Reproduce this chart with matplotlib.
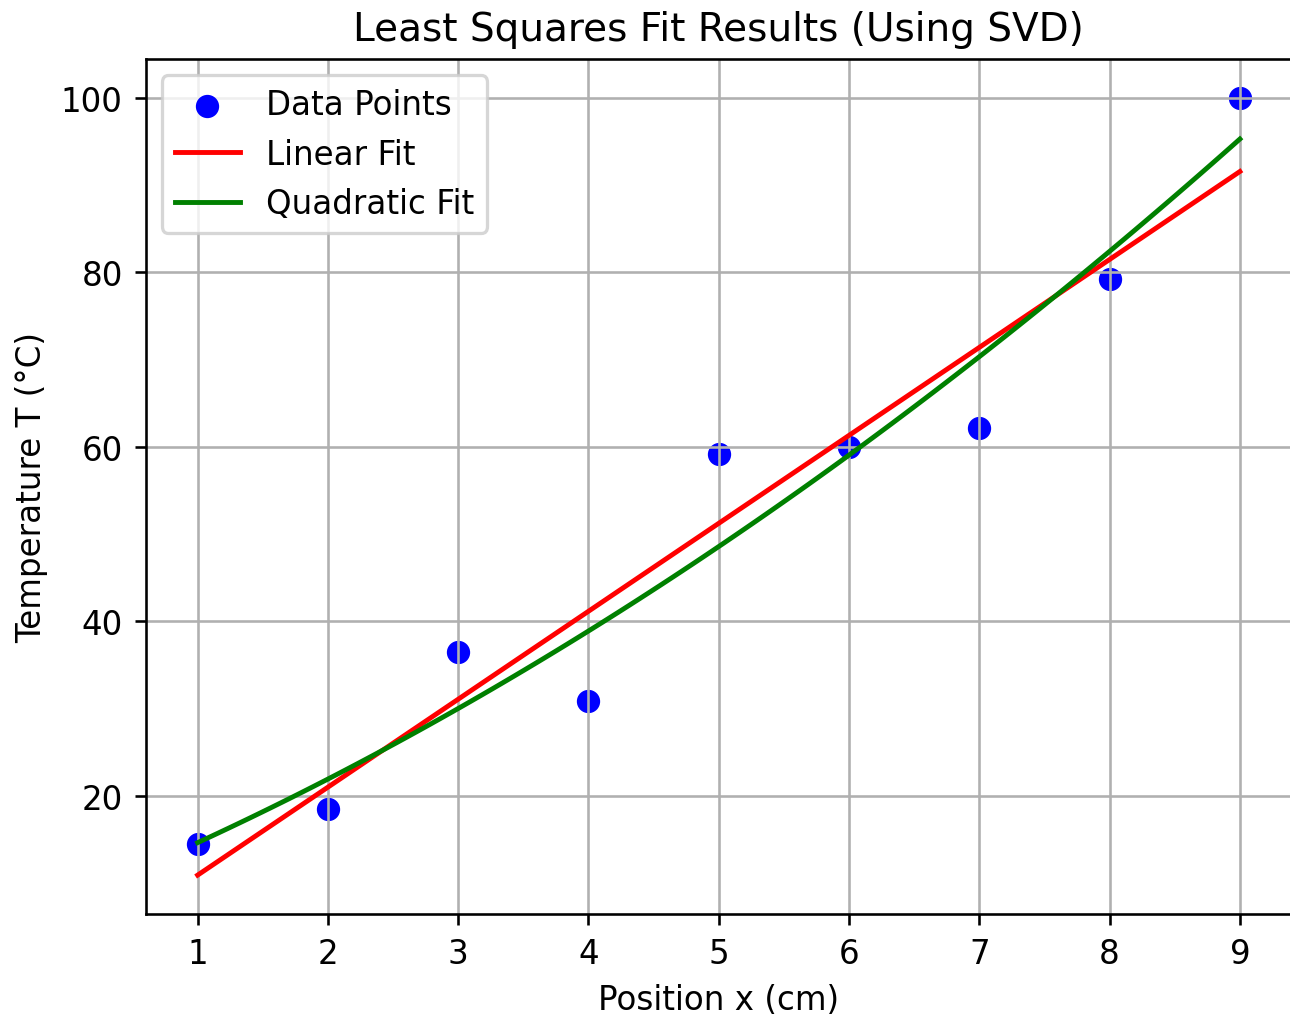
import numpy as np
import matplotlib
matplotlib.use("Agg")
import matplotlib.pyplot as plt

# Data
x_data = np.array([1, 2, 3, 4, 5, 6, 7, 8, 9], dtype=float)
T_data = np.array([14.4, 18.5, 36.5, 30.9, 59.2, 60.0, 62.2, 79.3, 100.0])

# Least-squares fits via SVD (as in the original chart)
def lstsq_svd(A, b):
    U, s, Vt = np.linalg.svd(A, full_matrices=False)
    return Vt.T @ ((U.T @ b) / s)

A_lin = np.column_stack([np.ones_like(x_data), x_data])
A_quad = np.column_stack([np.ones_like(x_data), x_data, x_data**2])
c_lin = lstsq_svd(A_lin, T_data)
c_quad = lstsq_svd(A_quad, T_data)

x_fit = np.linspace(x_data.min(), x_data.max(), 100)
T_lin = c_lin[0] + c_lin[1] * x_fit
T_quad = c_quad[0] + c_quad[1] * x_fit + c_quad[2] * x_fit**2

DPI = 234
fig = plt.figure(figsize=(1290 / DPI, 1017 / DPI), dpi=DPI)
ax = fig.add_axes([145.5 / 1290, 0.1003, (1292 - 145.5) / 1290, 0.8405])

ax.scatter(x_data, T_data, color="blue", s=38, label="Data Points")
ax.plot(x_fit, T_lin, color="red", label="Linear Fit")
ax.plot(x_fit, T_quad, color="green", label="Quadratic Fit")

ax.set_xlabel("Position x (cm)")
ax.set_ylabel("Temperature T (°C)")
ax.set_title("Least Squares Fit Results (Using SVD)")
ax.legend(loc="upper left")
ax.grid(True)

fig.savefig("out.png", dpi=DPI)
